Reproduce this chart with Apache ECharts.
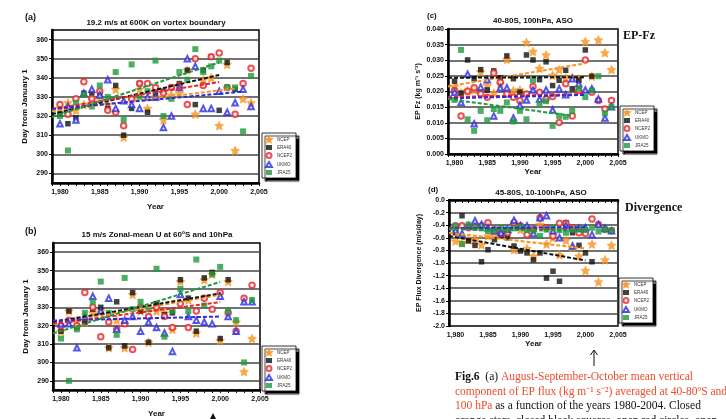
<!DOCTYPE html>
<html lang="en">
<head>
<meta charset="UTF-8">
<title>Vortex breakup dates and EP flux trends</title>
<script src="https://cdn.jsdelivr.net/npm/echarts@6/dist/echarts.min.js"></script>
<style>
    html, body { margin: 0; padding: 0; background: #fff; }
    #chart { width: 726px; height: 419px; }
</style>
</head>
<body>
<div id="chart"></div>
<script>
// years and tick labels
const years = [1980, 1981, 1982, 1983, 1984, 1985, 1986, 1987, 1988, 1989, 1990, 1991, 1992,
    1993, 1994, 1995, 1996, 1997, 1998, 1999, 2000, 2001, 2002, 2003, 2004];
const tickYears = [1979, 1980, 1981, 1982, 1983, 1984, 1985, 1986, 1987, 1988, 1989, 1990, 1991,
    1992, 1993, 1994, 1995, 1996, 1997, 1998, 1999, 2000, 2001, 2002, 2003, 2004, 2005];
const labelYears = [1980, 1985, 1990, 1995, 2000, 2005];
const dayTicks = [290, 300, 310, 320, 330, 340, 350, 360];
const names = ['NCEP', 'ERA40', 'NCEP2', 'UKMO', 'JRA25'];

// (a) breakup day, vortex boundary
const ncepA  = [324, 327, 323, 326, 329, 329, 326, 334, 309, 329, 334, 324, 330, 318, 331, 332, 344, 321, 339, 340, 315, 347, 302, 329, 327];
const era40A = [321, 316, 319, 332, 332, 332, 324, 336, 310, 324, 337, 322, 332, 333, 335, 337, 344, 326, 344, 351, 323, 348, 334, null, null];
const ncep2A = [326, 321, 329, 338, 329, 333, 323, 322, 315, 329, 337, 337, 335, 332, 335, 336, 326, 350, 336, 351, 353, 335, 321, 337, 345];
const ukmoA  = [316, 325, 318, 332, 334, 331, 339, 324, 328, 326, 324, 330, 330, 314, 320, 335, 350, 346, 324, 324, 333, 322, 327, 334, 325];
const jra25A = [320, 302, 327, 331, 325, 336, 330, 343, 318, 347, 330, 333, 349, 320, 329, 343, 339, 355, 343, 346, 349, 335, 335, 312, 341];
const trendXA = [[1979, 2002], [1979, 2000], [1979, 2000], [1979, 2003], [1979, 2000]];
const trendYA = [[322.5, 334.5], [321, 341.5], [323.7, 337.8], [323.7, 332.8], [319.5, 348]];

// (b) breakup day, zonal mean U
const ncepB  = [317, 328, 323, 322, 327, 328, 308, 323, 308, 337, 328, 311, 328, 327, 318, 344, 334, 316, 345, 348, 312, 344, 322, 295, 313];
const era40B = [317, 328, 319, 322, 329, 330, 308, 333, 309, 338, 328, 311, 332, 326, 327, 345, 335, 317, 346, 349, 313, 345, null, null, null];
const ncep2B = [320, 323, 320, 338, 330, 314, 322, 318, 321, 307, 330, 325, 330, 325, 319, 332, 319, 328, 335, 329, 338, 327, 317, 335, 342];
const ukmoB  = [321, 321, 308, 325, 336, 328, 335, 318, 323, 325, 317, 322, 319, 316, 306, 337, 325, 323, 322, 321, 336, 325, 317, 333, 333];
const jra25B = [313, 290, 318, 327, 333, 344, 327, 315, 346, 329, 333, 329, 351, 314, 328, 340, 328, 356, 331, 348, 352, 328, 323, 300, 334];
const trendXB = [[1979, 2000], [1979, 2000], [1979, 2000], [1979, 2000], [1979, 2000]];
const trendYB = [[321, 336.8], [322, 337.6], [321, 332.8], [322.8, 325], [315.8, 343.8]];

// (c) EP-Fz, 100 hPa
const ncepC  = [0.0216, 0.0195, 0.0203, 0.0205, 0.0263, 0.0219, 0.0195, 0.0225, 0.0303, 0.0203, 0.0205, 0.0357, 0.0328, 0.0274, 0.0317, 0.0252, 0.0270, 0.0244, 0.0246, 0.0241, 0.0360, 0.0249, 0.0365, 0.0324, 0.0270];
const era40C = [0.0233, 0.0195, 0.0301, 0.0241, 0.0270, 0.0205, 0.0266, 0.0244, 0.0314, 0.0241, 0.0198, 0.0317, 0.0301, 0.0238, 0.0295, 0.0219, 0.0236, 0.0268, 0.0209, 0.0236, 0.0333, 0.0249, null, null, null];
const ncep2C = [0.0203, 0.0122, 0.0201, 0.0212, 0.0192, 0.0182, 0.0259, 0.0230, 0.0192, 0.0182, 0.0171, 0.0192, 0.0216, 0.0198, 0.0176, 0.0184, 0.0101, 0.0225, 0.0122, 0.0203, 0.0301, 0.0198, 0.0171, 0.0144, 0.0171];
const ukmoC  = [0.0198, 0.0165, 0.0255, 0.0097, 0.0214, 0.0238, 0.0122, 0.0212, 0.0212, 0.0115, 0.0155, 0.0173, 0.0205, 0.0176, 0.0205, 0.0141, 0.0209, 0.0190, 0.0241, 0.0225, 0.0205, 0.0209, 0.0176, 0.0115, 0.0151];
const jra25C = [0.0173, 0.0333, 0.0111, 0.0074, 0.0138, 0.0108, 0.0144, 0.0138, 0.0165, 0.0104, 0.0138, 0.0111, 0.0236, 0.0160, 0.0169, 0.0090, 0.0122, 0.0119, 0.0138, 0.0209, 0.0182, 0.0203, 0.0249, 0.0130, 0.0150];
const trendXC = [[1979, 2000], [1979, 2000], [1979, 2000], [1979, 2000], [1979, 1998]];
const trendYC = [[0.0216, 0.0290], [0.0244, 0.0246], [0.0182, 0.0192], [0.0178, 0.0189], [0.0176, 0.0122]];

// (d) EP flux divergence, 10-100 hPa
const ncepD  = [-0.65, -0.68, -0.63, -0.63, -0.71, -0.57, -0.55, -0.52, -0.53, -0.79, -0.47, -0.77, -0.89, -0.39, -0.70, -0.60, -0.87, -0.64, -0.75, -0.89, -1.12, -0.70, -1.30, -0.95, -0.72];
const era40D = [-0.52, -0.25, -0.65, -0.72, -0.98, -0.79, -0.63, -0.57, -0.60, -0.73, -0.81, -0.84, -0.95, -0.84, -1.24, -1.13, -1.29, -0.36, -0.52, -0.72, -0.84, -0.98, null, null, null];
const ncep2D = [-0.41, -0.41, -0.44, -0.43, -0.41, -0.36, -0.47, -0.53, -0.52, -0.36, -0.41, -0.55, -0.47, -0.28, -0.44, -0.57, -0.37, -0.37, -0.44, -0.52, -0.53, -0.30, -0.39, -0.47, -0.49];
const ukmoD  = [-0.48, -0.53, -0.41, -0.33, -0.39, -0.44, -0.49, -0.52, -0.47, -0.32, -0.41, -0.41, -0.53, -0.28, -0.25, -0.49, -0.60, -0.41, -0.73, -0.45, -0.44, -0.55, -0.39, -0.45, -0.49];
const jra25D = [-0.41, -0.70, -0.39, -0.44, -0.45, -0.49, -0.47, -0.44, -0.47, -0.45, -0.43, -0.47, -0.49, -0.57, -0.47, -0.44, -0.48, -0.52, -0.47, -0.47, -0.48, -0.44, -0.50, -0.47, -0.48];
const trendXD = [[1979, 2000], [1979, 2000], [1979, 2000], [1979, 2000], [1979, 2000]];
const trendYD = [[-0.52, -0.77], [-0.57, -0.96], [-0.44, -0.48], [-0.45, -0.43], [-0.465, -0.49]];

const colors = ['#f7931e', '#111111', '#e8262a', '#2b2be0', '#1e9a3c'];
const star = 'path://M0,-10L2.9,-4L9.5,-3.1L4.7,1.5L5.9,8.1L0,5L-5.9,8.1L-4.7,1.5L-9.5,-3.1L-2.9,-4Z';
const symbols = [star, 'rect', 'emptyCircle', 'emptyTriangle', 'rect'];
const sizes = [9, 5.5, 5.5, 5.5, 6];

const chart = echarts.init(document.getElementById('chart'));
const axisFont = {fontSize: 7, fontWeight: 'bold', color: '#111', fontFamily: 'Liberation Sans'};
const nameFont = {fontSize: 8, fontWeight: 'bold', color: '#111', fontFamily: 'Liberation Sans'};

function panelSeries(k, arrays, trendX, trendY) {
    let out = [];
    arrays.forEach((arr, i) => {
        out.push({
            name: names[i], type: 'scatter', xAxisIndex: k, yAxisIndex: k, clip: false,
            symbol: symbols[i], symbolSize: sizes[i],
            itemStyle: {color: colors[i], borderColor: colors[i], borderWidth: i === 2 || i === 3 ? 1.3 : (i === 0 ? 0.5 : 0)},
            data: years.map((yr, j) => [yr, arr[j]]).filter(p => p[1] !== null),
            z: 3
        });
        out.push({
            type: 'line', xAxisIndex: k, yAxisIndex: k, symbol: 'none', silent: true,
            lineStyle: {color: colors[i], width: 2, type: [4, 2]},
            data: [[trendX[i][0], trendY[i][0]], [trendX[i][1], trendY[i][1]]],
            z: 4
        });
    });
    return out;
}

function xAxisFor(k, gap) {
    return {
        type: 'value', gridIndex: k, min: 1979, max: 2005,
        name: 'Year', nameLocation: 'middle', nameGap: gap, nameTextStyle: nameFont,
        axisLine: {lineStyle: {color: '#000', width: 2.5}},
        axisTick: {customValues: tickYears, length: 3, lineStyle: {color: '#000', width: 1}},
        axisLabel: {customValues: labelYears, margin: 6, ...axisFont},
        splitLine: {show: false}
    };
}

const gridLine = {show: true, lineStyle: {color: '#444', width: 1.6}};
const legendItems = names.map((n, i) => ({name: n, icon: symbols[i]}));

function legendAt(left, top) {
    return {
        orient: 'vertical', left: left, top: top, selectedMode: false,
        itemWidth: 6, itemHeight: 5, itemGap: 2, padding: [3, 4, 3, 3],
        backgroundColor: '#fff', borderColor: '#000', borderWidth: 0.8,
        shadowColor: '#000', shadowBlur: 1, shadowOffsetX: 3, shadowOffsetY: 3,
        textStyle: {fontSize: 4.5, color: '#333', fontFamily: 'Liberation Sans'},
        data: legendItems
    };
}

const option = {
    animation: false,
    backgroundColor: '#fff',
    grid: [
        {left: 52, top: 30, width: 207, height: 153, show: true, borderColor: '#000', borderWidth: 1.5},
        {left: 53, top: 243, width: 207, height: 152, show: true, borderColor: '#000', borderWidth: 1.5},
        {left: 448, top: 29, width: 170, height: 125, show: true, borderColor: '#000', borderWidth: 1.5},
        {left: 449, top: 200, width: 169, height: 126, show: true, borderColor: '#000', borderWidth: 1.5}
    ],
    legend: [legendAt(262, 133), legendAt(262, 346), legendAt(620, 106), legendAt(619, 278)],
    xAxis: [xAxisFor(0, 20), xAxisFor(1, 20), xAxisFor(2, 13), xAxisFor(3, 13)],
    yAxis: [
        {
            type: 'value', gridIndex: 0, min: 285, max: 365,
            name: 'Day from January 1', nameLocation: 'middle', nameGap: 23, nameTextStyle: nameFont,
            axisLine: {lineStyle: {color: '#000', width: 2.5}},
            axisTick: {customValues: dayTicks, length: 3, lineStyle: {color: '#000'}},
            axisLabel: {customValues: dayTicks, margin: 4, ...axisFont},
            splitLine: gridLine
        },
        {
            type: 'value', gridIndex: 1, min: 285, max: 365,
            name: 'Day from January 1', nameLocation: 'middle', nameGap: 23, nameTextStyle: nameFont,
            axisLine: {lineStyle: {color: '#000', width: 2.5}},
            axisTick: {customValues: dayTicks, length: 3, lineStyle: {color: '#000'}},
            axisLabel: {customValues: dayTicks, margin: 4, ...axisFont},
            splitLine: gridLine
        },
        {
            type: 'value', gridIndex: 2, min: 0, max: 0.04, interval: 0.005,
            name: 'EP Fz (kg m⁻¹ s⁻²)', nameLocation: 'middle', nameGap: 26, nameTextStyle: {...nameFont, fontSize: 7},
            axisLine: {lineStyle: {color: '#000', width: 2.5}},
            axisTick: {length: 3, lineStyle: {color: '#000'}},
            axisLabel: {margin: 4, formatter: v => v.toFixed(3), ...axisFont},
            splitLine: gridLine
        },
        {
            type: 'value', gridIndex: 3, min: -2, max: 0, interval: 0.2,
            name: 'EP Flux Divergence (m/s/day)', nameLocation: 'middle', nameGap: 26, nameTextStyle: {...nameFont, fontSize: 7},
            axisLine: {lineStyle: {color: '#000', width: 2.5}},
            axisTick: {length: 3, lineStyle: {color: '#000'}},
            axisLabel: {margin: 4, formatter: v => v.toFixed(1), ...axisFont},
            splitLine: gridLine
        }
    ],
    series: [].concat(
        panelSeries(0, [ncepA, era40A, ncep2A, ukmoA, jra25A], trendXA, trendYA),
        panelSeries(1, [ncepB, era40B, ncep2B, ukmoB, jra25B], trendXB, trendYB),
        panelSeries(2, [ncepC, era40C, ncep2C, ukmoC, jra25C], trendXC, trendYC),
        panelSeries(3, [ncepD, era40D, ncep2D, ukmoD, jra25D], trendXD, trendYD)
    ),
    graphic: [
        {type: 'text', style: {text: '(a)', x: 25, y: 18, font: 'bold 9px Liberation Sans', fill: '#111', verticalAlign: 'middle'}},
        {type: 'text', style: {text: '(b)', x: 25, y: 232, font: 'bold 9px Liberation Sans', fill: '#111', verticalAlign: 'middle'}},
        {type: 'text', style: {text: '(c)', x: 427, y: 16, font: 'bold 8px Liberation Sans', fill: '#111', verticalAlign: 'middle'}},
        {type: 'text', style: {text: '(d)', x: 428, y: 190, font: 'bold 8px Liberation Sans', fill: '#111', verticalAlign: 'middle'}},
        {type: 'text', style: {text: '19.2 m/s at 600K on vortex boundary', x: 156, y: 23, font: 'bold 8px Liberation Sans', fill: '#111', align: 'center', verticalAlign: 'middle'}},
        {type: 'text', style: {text: '15 m/s Zonal-mean U at 60ºS and 10hPa', x: 157, y: 235, font: 'bold 8px Liberation Sans', fill: '#111', align: 'center', verticalAlign: 'middle'}},
        {type: 'text', style: {text: '40-80S, 100hPa, ASO', x: 533, y: 21, font: 'bold 8px Liberation Sans', fill: '#111', align: 'center', verticalAlign: 'middle'}},
        {type: 'text', style: {text: '45-80S, 10-100hPa, ASO', x: 541, y: 193, font: 'bold 8px Liberation Sans', fill: '#111', align: 'center', verticalAlign: 'middle'}},
        {type: 'text', style: {text: 'EP-Fz', x: 623, y: 36, font: 'bold 12px Liberation Serif', fill: '#111', verticalAlign: 'middle'}},
        {type: 'text', style: {text: 'Divergence', x: 625, y: 208, font: 'bold 12px Liberation Serif', fill: '#111', verticalAlign: 'middle'}},
        {type: 'line', shape: {x1: 594, y1: 366, x2: 594, y2: 351}, style: {stroke: '#111', lineWidth: 1}},
        {type: 'polyline', shape: {points: [[590.5, 355], [594, 350], [597.5, 355]]}, style: {stroke: '#111', lineWidth: 1, fill: null}},
        {type: 'polygon', shape: {points: [[210, 419], [213, 413], [216, 419]]}, style: {fill: '#111'}},
        {
            type: 'text',
            style: {
                x: 455, y: 370,
                text: '{b|Fig.6}  (a) {r|August-September-October mean vertical}\n' +
                    '{r|component of EP flux (kg m⁻¹ s⁻²) averaged at 40-80ºS and}\n' +
                    '{r|100 hPa} as a function of the years 1980-2004. Closed\n' +
                    'orange stars, closed black squares, open red circles, open',
                font: '11.5px Liberation Serif', fill: '#111', lineHeight: 14.5,
                rich: {
                    b: {fontWeight: 'bold', fontSize: 11.5, fontFamily: 'Liberation Serif', fill: '#111', lineHeight: 14.5},
                    r: {fontSize: 11.5, fontFamily: 'Liberation Serif', fill: '#ef4b2b', color: '#ef4b2b', lineHeight: 14.5}
                }
            }
        }
    ]
};
chart.setOption(option);
</script>
</body>
</html>
